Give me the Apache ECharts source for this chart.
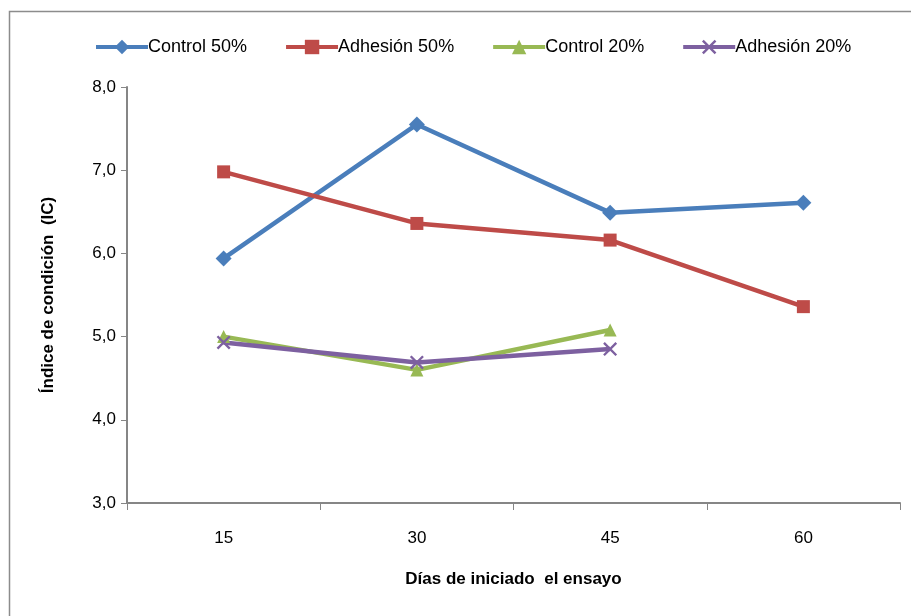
<!DOCTYPE html>
<html>
<head>
<meta charset="utf-8">
<script src="https://cdn.jsdelivr.net/npm/echarts@6/dist/echarts.min.js"></script>
<style>html,body{margin:0;padding:0;background:#fff}#c{width:911px;height:616px}</style>
</head>
<body>
<div id="c"></div>
<script>
var categories = ['15', '30', '45', '60'];
var control50 = [5.94, 7.55, 6.49, 6.61];
var adhesion50 = [6.98, 6.36, 6.16, 5.36];
var control20 = [5.00, 4.60, 5.08, null];
var adhesion20 = [4.93, 4.69, 4.85, null];
var seriesNames = ['Control 50%', 'Adhesión 50%', 'Control 20%', 'Adhesión 20%'];

var font = 'Liberation Sans';
var crossPath = 'path://M0,1.2L1.2,0L10,8.8L8.8,10Z M8.8,0L10,1.2L1.2,10L0,8.8Z';
var chart = echarts.init(document.getElementById('c'));
function mk(name, data, color, symbol, size) {
  return {
    name: name, type: 'line', data: data, symbol: symbol, symbolSize: size,
    showAllSymbol: true, connectNulls: false,
    lineStyle: { color: color, width: 4.5 },
    itemStyle: { color: color },
    emphasis: { disabled: true }
  };
}
chart.setOption({
  animation: false,
  graphic: [{ type: 'rect', shape: { x: 9.5, y: 11.5, width: 1000, height: 1000 },
    style: { fill: 'none', stroke: '#8c8c8c', lineWidth: 1.5 }, silent: true, z: -1 }],
  legend: {
    top: 33, left: 89, itemWidth: 52, itemHeight: 18, itemGap: 37,
    lineStyle: { width: 4 },
    textStyle: { fontFamily: font, fontSize: 18, color: '#000', padding: [0,0,0,-5] },
    data: seriesNames
  },
  grid: { left: 127, right: 11, top: 87, bottom: 113, containLabel: false },
  xAxis: {
    type: 'category', data: categories, boundaryGap: true,
    name: 'Días de iniciado  el ensayo', nameLocation: 'middle', nameGap: 68,
    nameTextStyle: { fontFamily: font, fontSize: 17, fontWeight: 'bold', color: '#000' },
    axisLine: { lineStyle: { color: '#868686', width: 2 } },
    axisTick: { show: true, length: 7, lineStyle: { color: '#868686', width: 1 } },
    axisLabel: { fontFamily: font, fontSize: 17, color: '#000', margin: 27 }
  },
  yAxis: {
    type: 'value', min: 3, max: 8, interval: 1,
    name: 'Índice de condición  (IC)', nameLocation: 'middle', nameGap: 70, nameRotate: 90,
    nameTextStyle: { fontFamily: font, fontSize: 17, fontWeight: 'bold', color: '#000' },
    splitLine: { show: false },
    axisLine: { show: true, lineStyle: { color: '#868686', width: 2 } },
    axisTick: { show: true, length: 6, lineStyle: { color: '#868686', width: 1 } },
    axisLabel: { fontFamily: font, fontSize: 17, color: '#000', margin: 11,
      formatter: function (v) { return v.toFixed(1).replace('.', ','); } }
  },
  series: [
    mk(seriesNames[0], control50, '#4A7EBB', 'diamond', 16),
    mk(seriesNames[1], adhesion50, '#BE4B48', 'rect', 13),
    mk(seriesNames[2], control20, '#98B954', 'triangle', 13),
    mk(seriesNames[3], adhesion20, '#7D60A0', crossPath, 14)
  ]
});
</script>
</body>
</html>
